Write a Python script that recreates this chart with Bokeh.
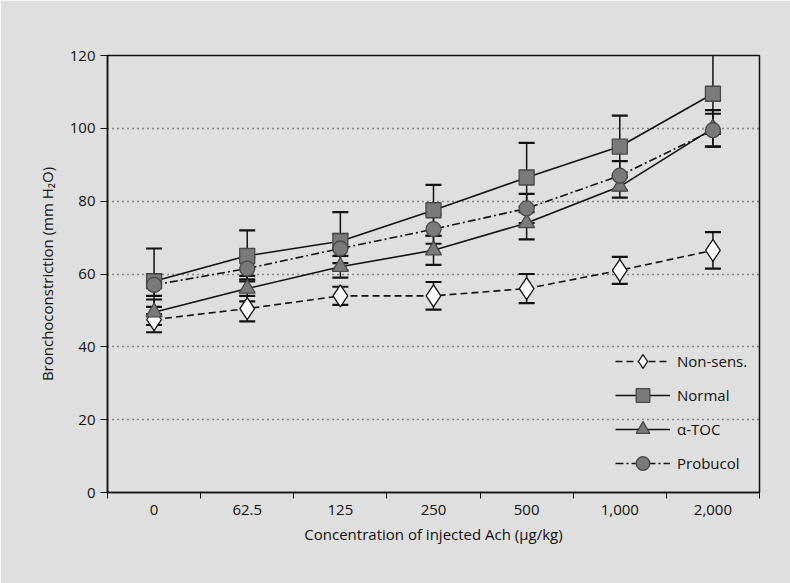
from bokeh.plotting import figure
from bokeh.models import (ColumnDataSource, Range1d, FixedTicker, Whisker, TeeHead,
                          Legend, LegendItem)
from bokeh.embed import file_html
from bokeh.resources import INLINE

# ---- data ----
categories = ["0", "62.5", "125", "250", "500", "1,000", "2,000"]
non_sens = [47.5, 50.5, 54, 54, 56, 61, 66.5]
non_sens_err = [3.5, 3.5, 2.5, 3.8, 4, 3.7, 5]
normal = [58, 65, 69, 77.5, 86.5, 95, 109.5]
normal_err = [9, 7, 8, 7, 9.5, 8.5, 11]
atoc = [49.5, 56, 62, 66.5, 74, 84, 100]
atoc_err = [3.5, 3.5, 3, 4, 4.5, 3, 5]
probucol = [57, 61.5, 67, 72.3, 78, 87, 99.5]
probucol_err = [3, 3, 4, 4, 4, 4, 4.5]
y_ticks = [0, 20, 40, 60, 80, 100, 120]
grid_ticks = [20, 40, 60, 80, 100]

FONT = "Open Sans"
BG = "#dfdfdf"
INK = "#111111"
MARK_FILL = "#7a7a7a"
MARK_LINE = "#484848"

p = figure(width=790, height=583, x_range=Range1d(-0.5, 6.5), y_range=Range1d(0, 120),
           output_backend="svg", toolbar_location=None,
           min_border_left=107, min_border_right=31, min_border_top=55, min_border_bottom=91)
p.background_fill_color = BG
p.border_fill_color = BG
p.outline_line_color = INK
p.outline_line_width = 1.5

xs = list(range(len(categories)))

# axes
p.xaxis.ticker = FixedTicker(ticks=xs, minor_ticks=[i - 0.5 for i in range(len(categories) + 1)])
p.xaxis.major_label_overrides = {i: c for i, c in enumerate(categories)}
p.xaxis.major_tick_out = 0
p.xaxis.major_tick_in = 0
p.xaxis.minor_tick_out = 6
p.xaxis.minor_tick_in = 0
p.xaxis.minor_tick_line_color = INK
p.xaxis.major_label_standoff = 6
p.xaxis.axis_label = "Concentration of injected Ach (µg/kg)"
p.xaxis.axis_label_standoff = 6

p.yaxis.ticker = FixedTicker(ticks=y_ticks, minor_ticks=[])
p.yaxis.major_tick_out = 7
p.yaxis.major_tick_in = 0
p.yaxis.major_label_standoff = 5
p.yaxis.axis_label = "Bronchoconstriction (mm H₂O)"
p.yaxis.axis_label_standoff = 10

for ax in (p.xaxis[0], p.yaxis[0]):
    ax.axis_line_color = INK
    ax.axis_line_width = 1.5
    ax.major_tick_line_color = INK
    ax.major_label_text_font = FONT
    ax.major_label_text_font_size = "15px"
    ax.major_label_text_color = INK
    ax.axis_label_text_font = FONT
    ax.axis_label_text_font_size = "15px"
    ax.axis_label_text_font_style = "normal"
    ax.axis_label_text_color = INK

p.xgrid.visible = False
p.ygrid.ticker = FixedTicker(ticks=grid_ticks)
p.ygrid.grid_line_color = "#2a2a2a"
p.ygrid.grid_line_dash = "1 4"
p.ygrid.grid_line_width = 1.3

series = [
    ("Non-sens.", non_sens, non_sens_err, "diamond", "white", INK, "7 4", 22),
    ("Normal", normal, normal_err, "square", MARK_FILL, MARK_LINE, "solid", 15),
    ("α-TOC", atoc, atoc_err, "triangle", MARK_FILL, MARK_LINE, "solid", 16),
    ("Probucol", probucol, probucol_err, "circle", MARK_FILL, MARK_LINE, "8 3 2 3", 15),
]

items = []
for name, vals, errs, marker, fill, mline, dash, size in series:
    src = ColumnDataSource(dict(
        x=xs, y=vals,
        upper=[v + e for v, e in zip(vals, errs)],
        lower=[v - e for v, e in zip(vals, errs)],
    ))
    w = Whisker(source=src, base="x", upper="upper", lower="lower",
                line_color=INK, line_width=1.5,
                upper_head=TeeHead(size=16, line_color=INK, line_width=2.2),
                lower_head=TeeHead(size=16, line_color=INK, line_width=2.2))
    p.add_layout(w)
    lr = p.line("x", "y", source=src, line_color=INK, line_width=1.6, line_dash=dash)
    mr = p.scatter("x", "y", source=src, marker=marker, size=size,
                   fill_color=fill, line_color=mline, line_width=1.3)
    items.append(LegendItem(label=name, renderers=[lr, mr]))

legend = Legend(items=items, location=(508, 12), orientation="vertical",
                glyph_width=55, glyph_height=34, spacing=-3, label_standoff=7,
                padding=0, margin=0, border_line_alpha=0, background_fill_alpha=0,
                label_text_font=FONT, label_text_font_size="15px", label_text_color=INK)
p.add_layout(legend)

open("out.html", "w").write(file_html(p, INLINE))
